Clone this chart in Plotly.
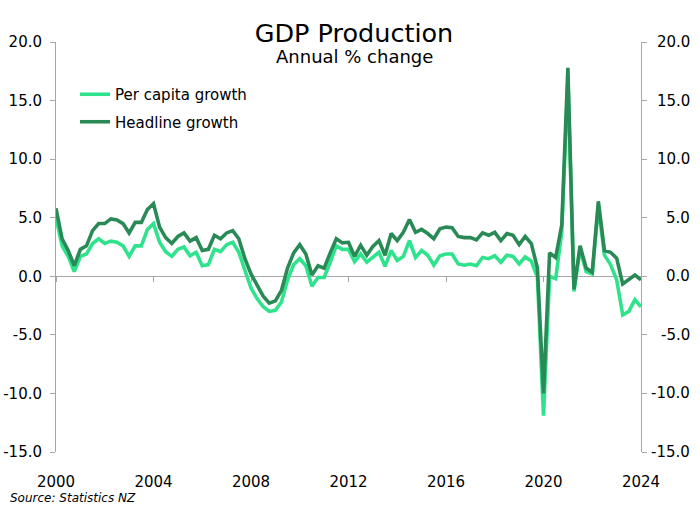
import plotly.graph_objects as go

# ---------------- data (quarterly, annual % change) ----------------
quarter_pos = [2000 + q / 4 for q in range(97)]

per_capita = [
    5.0, 2.6, 1.7, 0.4, 1.7, 1.9, 2.8, 3.2, 2.8, 3.0,
    2.9, 2.6, 1.7, 2.6, 2.6, 4.0, 4.5, 2.9, 2.1, 1.7,
    2.3, 2.5, 1.75, 2.05, 0.9, 1.0, 2.3, 2.1, 2.7, 2.9,
    2.05, 0.4, -1.0, -1.9, -2.6, -3.0, -2.9, -2.2, -0.3, 1.0,
    1.5, 0.9, -0.85, -0.1, -0.1, 1.2, 2.6, 2.3, 2.3, 1.25,
    1.9, 1.2, 1.6, 2.05, 0.85, 2.2, 1.35, 1.7, 3.05, 1.6,
    2.2, 1.8, 0.95, 1.75, 1.9, 1.9, 1.05, 0.95, 1.05, 0.9,
    1.6, 1.5, 1.75, 1.2, 1.8, 1.7, 1.05, 1.65, 1.3, -0.1,
    -11.9, 0.0, -0.2, 3.8, 16.8, -1.3, 2.3, 0.4, 0.2, 6.0,
    1.8, 1.0, -0.3, -3.3, -3.0, -2.0, -2.6,
]

headline = [
    5.8, 3.2, 2.2, 0.9, 2.3, 2.6, 3.9, 4.5, 4.5, 4.9,
    4.8, 4.5, 3.7, 4.6, 4.6, 5.7, 6.2, 4.2, 3.3, 2.8,
    3.4, 3.7, 3.0, 3.3, 2.2, 2.3, 3.5, 3.2, 3.7, 3.9,
    3.2, 1.5, 0.2, -0.8, -1.7, -2.3, -2.1, -1.2, 0.7, 2.0,
    2.7, 1.9, 0.1, 0.9, 0.7, 2.0, 3.2, 2.85, 2.9, 1.7,
    2.65, 1.8, 2.55, 3.05, 1.8, 3.65, 3.05, 3.75, 4.85, 3.75,
    4.0, 3.65, 3.2, 4.05, 4.2, 4.15, 3.4, 3.3, 3.3, 3.1,
    3.7, 3.5, 3.75, 3.05, 3.65, 3.5, 2.7, 3.4, 2.8, 0.7,
    -10.0, 2.0, 1.6, 4.4, 17.8, -1.1, 2.6, 0.7, 0.35, 6.4,
    2.2, 2.05, 1.55, -0.65, -0.25, 0.1, -0.3,
]

x_tick_vals = [2000, 2004, 2008, 2012, 2016, 2020, 2024]
x_tick_text = ["2000", "2004", "2008", "2012", "2016", "2020", "2024"]
y_tick_vals = [-15, -10, -5, 0, 5, 10, 15, 20]
y_tick_text = ["-15.0", "-10.0", "-5.0", "0.0", "5.0", "10.0", "15.0", "20.0"]
x_range = [2000, 2024]
y_range = [-15, 20]

# ---------------- style ----------------
LIGHT = "#2FE38D"
DARK = "#2A8A56"
AXIS = "#A6A6A6"
FONT = "DejaVu Sans"

fig = go.Figure()
fig.add_trace(go.Scatter(
    x=quarter_pos, y=per_capita, name="Per capita growth", mode="lines",
    line=dict(color=LIGHT, width=3.6), legendgroup="pc",
))
fig.add_trace(go.Scatter(
    x=quarter_pos, y=headline, name="Headline growth", mode="lines",
    line=dict(color=DARK, width=3.6), legendgroup="hl",
))
# host trace for the secondary (right / zero-line) axes
fig.add_trace(go.Scatter(
    x=quarter_pos[:1], y=[None], xaxis="x2", yaxis="y2",
    showlegend=False, hoverinfo="skip", mode="lines",
))

y_axis_common = dict(
    range=y_range, tickvals=y_tick_vals, ticktext=y_tick_text,
    showline=True, linecolor=AXIS, linewidth=1,
    ticks="outside", ticklen=5, tickcolor=AXIS, tickwidth=1,
    showgrid=False, zeroline=False,
    tickfont=dict(size=15, color="#000000"), automargin=False,
)

# right-hand tick labels are right-aligned in the reference -> annotations on the y scale
right_labels = [
    dict(text=t, xref="paper", yref="y", x=(692 - 56) / 585, y=v,
         xanchor="right", yanchor="middle", showarrow=False,
         font=dict(size=15, color="#000000"))
    for v, t in zip(y_tick_vals, y_tick_text)
]

fig.update_layout(
    width=700, height=506,
    margin=dict(l=56, r=59, t=42, b=54, autoexpand=False),
    paper_bgcolor="white", plot_bgcolor="white",
    font=dict(family=FONT, color="#000000", size=15),
    title=dict(
        text="GDP Production", x=354 / 700, xanchor="center",
        y=1 - 33 / 506, yanchor="middle", font=dict(size=25.5, color="#000000"),
    ),
    xaxis=dict(
        range=x_range, tickvals=x_tick_vals, ticktext=x_tick_text,
        showline=False, showgrid=False, zeroline=False, ticks="",
        ticklabelstandoff=19, tickfont=dict(size=15, color="#000000"),
        automargin=False,
    ),
    xaxis2=dict(
        range=x_range, overlaying="x", anchor="free",
        position=(0 - y_range[0]) / (y_range[1] - y_range[0]),
        side="bottom", showline=True, linecolor=AXIS, linewidth=1,
        ticks="outside", ticklen=5, tickcolor=AXIS, tickvals=x_tick_vals,
        showticklabels=False, showgrid=False, zeroline=False,
        layer="below traces", automargin=False,
    ),
    yaxis=dict(side="left", ticklabelstandoff=5, **y_axis_common),
    yaxis2=dict(side="right", overlaying="y", anchor="x", showticklabels=False,
                **y_axis_common),
    legend=dict(
        x=(75 - 56) / 585, xanchor="left", y=1 - (78 - 42) / 410, yanchor="top",
        bgcolor="rgba(0,0,0,0)", font=dict(size=15, color="#000000"),
        traceorder="grouped", tracegroupgap=5,
    ),
    showlegend=True,
    annotations=[
        dict(text="Annual % change", xref="paper", yref="paper",
             x=(354 - 56) / 585, y=1 - (56 - 42) / 410,
             xanchor="center", yanchor="middle", showarrow=False,
             font=dict(size=18, color="#000000")),
        dict(text="<i>Source: Statistics NZ</i>", xref="paper", yref="paper",
             x=(8 - 56) / 585, y=(452 - 498) / 410, xanchor="left", yanchor="middle",
             showarrow=False, font=dict(size=12, color="#000000")),
    ] + right_labels,
)

fig.write_html(
    "out.html",
    config={"displayModeBar": False},
    post_script="document.body.style.margin='0';document.body.style.overflow='hidden';",
)
